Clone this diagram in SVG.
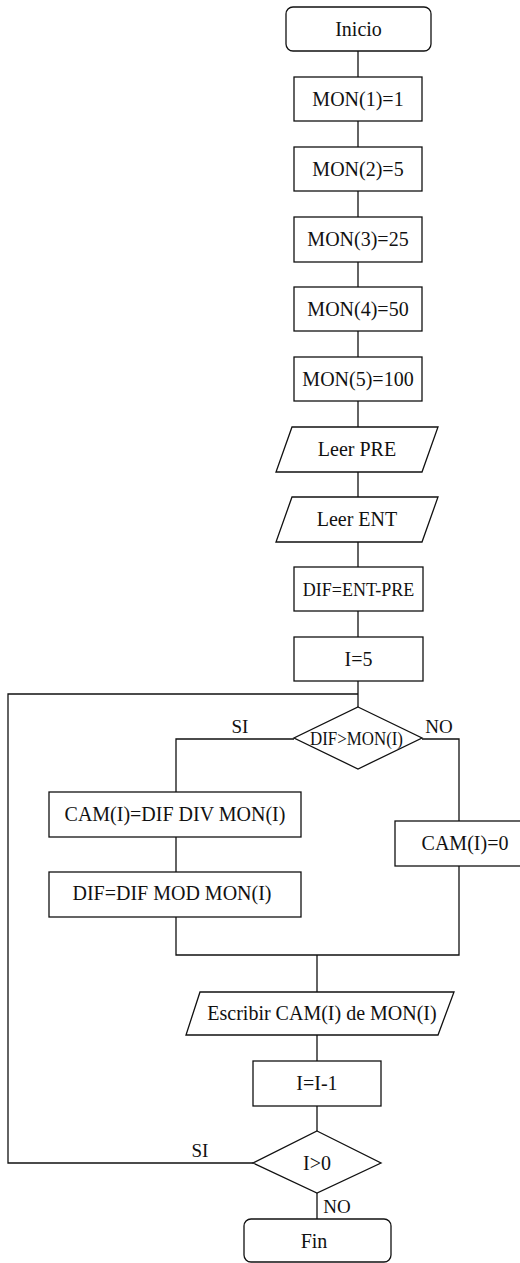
<svg xmlns="http://www.w3.org/2000/svg" width="520" height="1263" viewBox="0 0 520 1263">
<style>
.s{fill:#fff;stroke:#111;stroke-width:1.3}
.c{fill:none;stroke:#111;stroke-width:1.3}
text{font-family:"Liberation Serif","Times New Roman",serif;font-size:20px;fill:#111;text-anchor:middle}
.l{font-size:19px}
</style>
<rect width="520" height="1263" fill="#fff"/>
<g id="connectors">
<path class="c" d="M358 51V77M358 121V147M358 191V217M358 262V287M358 331V357M358 401V427M358 472V497M358 542V567M358 611V637M358 681V707"/>
<path class="c" d="M253 1163H8V694H358"/>
<path class="c" d="M294 739H176V792M176 837V872M176 917V955H459V866M422 739H459V821M317 955V992M317 1035V1061M317 1106V1131M317 1193V1219"/>
</g>
<g id="inicio"><rect class="s" x="286" y="7" width="145" height="44" rx="7"/><text x="358.5" y="36">Inicio</text></g>
<g id="mon1"><rect class="s" x="294" y="77" width="128" height="44"/><text x="358" y="106">MON(1)=1</text></g>
<g id="mon2"><rect class="s" x="294" y="147" width="128" height="44"/><text x="358" y="176">MON(2)=5</text></g>
<g id="mon3"><rect class="s" x="294" y="217" width="128" height="45"/><text x="358" y="246">MON(3)=25</text></g>
<g id="mon4"><rect class="s" x="294" y="287" width="128" height="44"/><text x="358" y="316">MON(4)=50</text></g>
<g id="mon5"><rect class="s" x="294" y="357" width="128" height="44"/><text x="358" y="386">MON(5)=100</text></g>
<g id="leerpre"><polygon class="s" points="292,427 438,427 422,472 276,472"/><text x="357" y="456">Leer PRE</text></g>
<g id="leerent"><polygon class="s" points="292,497 438,497 422,542 276,542"/><text x="357" y="526">Leer ENT</text></g>
<g id="dif"><rect class="s" x="294" y="567" width="129" height="44"/><text x="358.5" y="595.5" style="font-size:18px">DIF=ENT-PRE</text></g>
<g id="i5"><rect class="s" x="294" y="637" width="129" height="44"/><text x="358.5" y="666">I=5</text></g>
<g id="dec1"><polygon class="s" points="358,707 422,738 358,769 294,738"/><text x="356.5" y="745" class="l" textLength="93" lengthAdjust="spacingAndGlyphs">DIF&gt;MON(I)</text></g>
<text x="240" y="733" class="l">SI</text>
<text x="439" y="733" class="l">NO</text>
<g id="camdiv"><rect class="s" x="49" y="792" width="252" height="45"/><text x="175" y="821">CAM(I)=DIF DIV MON(I)</text></g>
<g id="cam0"><rect class="s" x="395" y="821" width="140" height="45"/><text x="465" y="850">CAM(I)=0</text></g>
<g id="difmod"><rect class="s" x="49" y="872" width="252" height="45"/><text x="172" y="900">DIF=DIF MOD MON(I)</text></g>
<g id="escribir"><polygon class="s" points="200,992 454,992 438,1035 186,1035"/><text x="322" y="1020">Escribir CAM(I) de MON(I)</text></g>
<g id="dec"><rect class="s" x="253" y="1061" width="128" height="45"/><text x="317" y="1090">I=I-1</text></g>
<g id="dec2"><polygon class="s" points="317,1131 381,1163 317,1193 253,1163"/><text x="317" y="1170">I&gt;0</text></g>
<text x="200" y="1157" class="l">SI</text>
<text x="337" y="1213" class="l">NO</text>
<g id="fin"><rect class="s" x="244" y="1219" width="147" height="43" rx="7"/><text x="314" y="1248">Fin</text></g>
</svg>
